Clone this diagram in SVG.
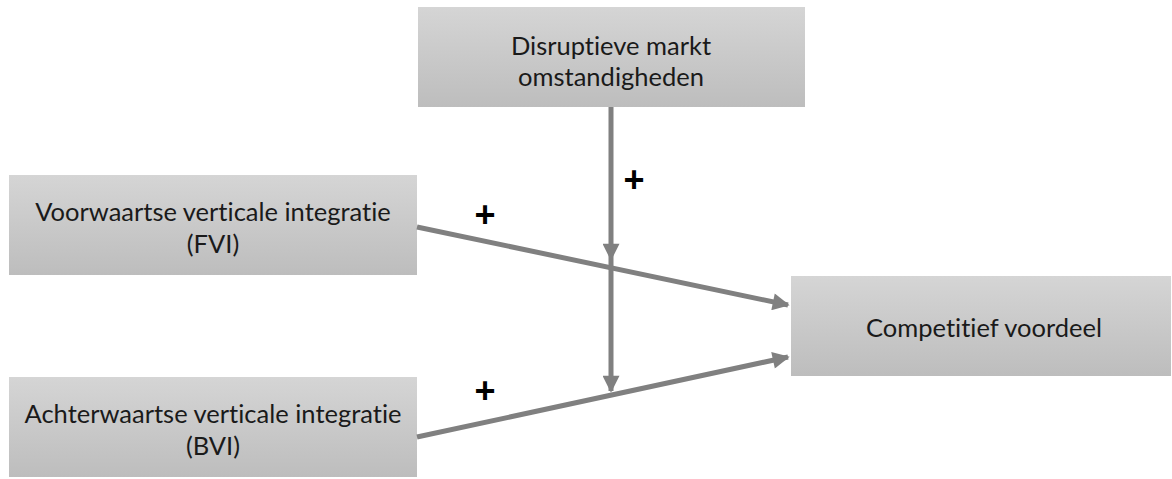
<svg xmlns="http://www.w3.org/2000/svg" width="1172" height="479" viewBox="0 0 1172 479">
<style>
.box{fill:url(#g);}
.t{font-family:Lato,"Open Sans","Liberation Sans",sans-serif;font-size:25.5px;fill:#1a1a1a;text-anchor:middle;font-variant-ligatures:none;}
.c{stroke:#808080;stroke-width:5;fill:none;}
.p{font-family:"Liberation Sans",Arial,sans-serif;font-size:36px;font-weight:bold;fill:#000;text-anchor:middle;}
</style>
<defs>
<linearGradient id="g" x1="0" y1="0" x2="0" y2="1">
<stop offset="0" stop-color="#d5d5d5"/>
<stop offset="1" stop-color="#bdbdbd"/>
</linearGradient>
<marker id="ah" viewBox="0 0 10 10" refX="9" refY="5" markerWidth="4.2" markerHeight="3.4" orient="auto" markerUnits="strokeWidth">
<path d="M0,0 L10,5 L0,10 z" fill="#808080"/>
</marker>
</defs>
<g id="node-disruptief">
<rect class="box" x="418" y="7" width="387" height="100"/>
<text class="t" x="611" y="55">Disruptieve markt</text>
<text class="t" x="611" y="86">omstandigheden</text>
</g>
<g id="node-fvi">
<rect class="box" x="9" y="175" width="408" height="100"/>
<text class="t" x="213" y="221">Voorwaartse verticale integratie</text>
<text class="t" x="213" y="253">(FVI)</text>
</g>
<g id="node-bvi">
<rect class="box" x="9" y="377" width="408" height="100"/>
<text class="t" x="213" y="423">Achterwaartse verticale integratie</text>
<text class="t" x="213" y="455">(BVI)</text>
</g>
<g id="node-comp">
<rect class="box" x="791" y="276" width="380" height="100"/>
<text class="t" x="984" y="337">Competitief voordeel</text>
</g>
<g id="connectors">
<line class="c" x1="417" y1="227" x2="788" y2="305" marker-end="url(#ah)"/>
<line class="c" x1="417" y1="437" x2="788" y2="357" marker-end="url(#ah)"/>
<line class="c" x1="611" y1="107" x2="611" y2="259" marker-end="url(#ah)"/>
<line class="c" x1="611" y1="259" x2="611" y2="391" marker-end="url(#ah)"/>
<text class="p" x="485" y="227">+</text>
<text class="p" x="634" y="192">+</text>
<text class="p" x="485" y="403">+</text>
</g>
</svg>
